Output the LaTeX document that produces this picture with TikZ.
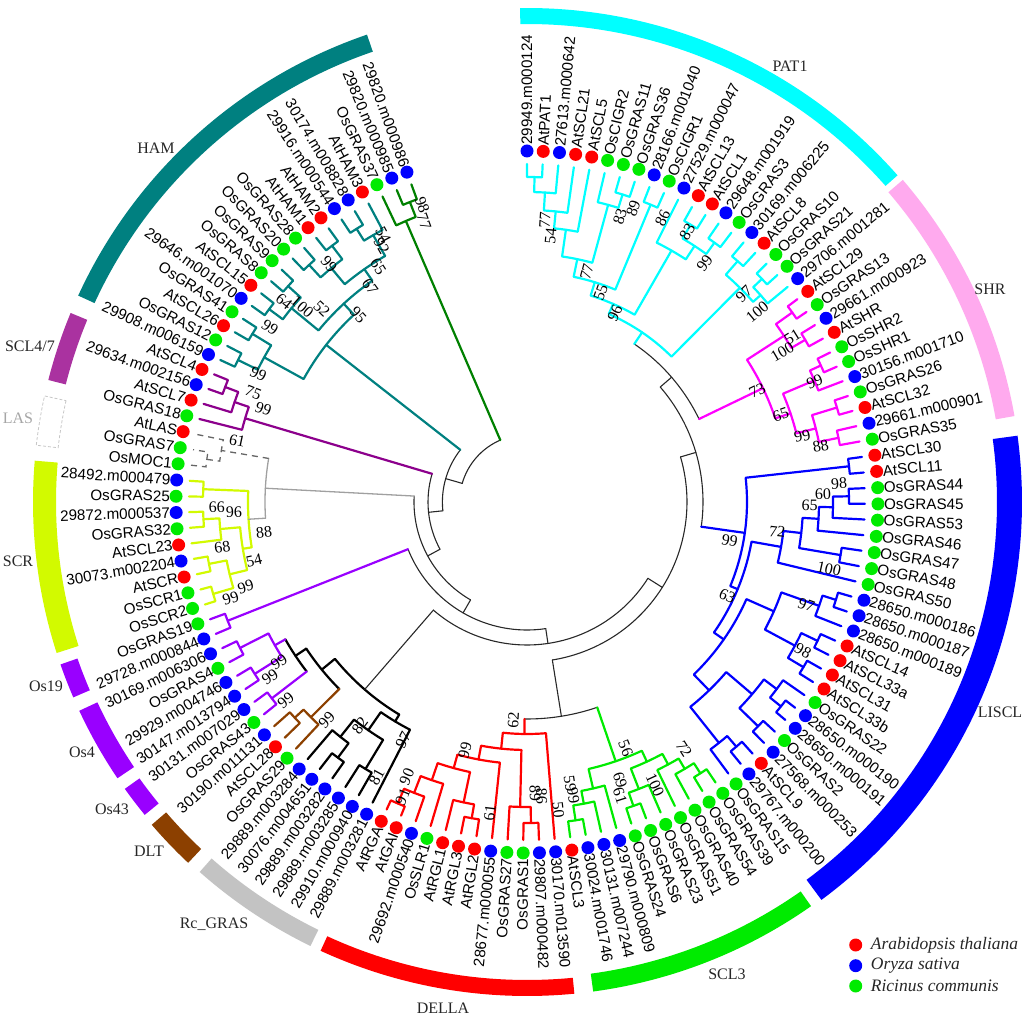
\documentclass[tikz,border=0pt]{standalone}
\usepackage{fontspec}
\setmainfont{Liberation Serif}
\newfontfamily\labfont{Liberation Sans}
\definecolor{cyc}{RGB}{0,255,255}
\definecolor{mgc}{RGB}{255,0,255}
\definecolor{shrbar}{RGB}{255,170,238}
\definecolor{blc}{RGB}{0,0,255}
\definecolor{grc}{RGB}{0,235,0}
\definecolor{rdc}{RGB}{255,0,0}
\definecolor{rcbar}{RGB}{195,195,195}
\definecolor{brc}{RGB}{140,64,0}
\definecolor{vic}{RGB}{153,0,255}
\definecolor{ygc}{RGB}{210,250,0}
\definecolor{puc}{RGB}{140,0,140}
\definecolor{pubar}{RGB}{170,50,160}
\definecolor{tec}{RGB}{0,128,128}
\definecolor{dgc}{RGB}{0,128,0}
\definecolor{bkc}{RGB}{40,40,40}
\definecolor{gyc}{RGB}{160,160,160}
\definecolor{dotr}{RGB}{255,0,0}
\definecolor{dotb}{RGB}{0,0,255}
\definecolor{dotg}{RGB}{0,235,0}
\def\dA{2.65625}
\def\tipR{338}
\newcommand\TM[3]{\pgfmathsetmacro#1{((#2)+(#3))/2}}
\newcommand\TA[4]{\pgfmathsetmacro\zzP{90-(#3)*\dA}\pgfmathsetmacro\zzQ{90-(#4)*\dA}%
 \draw[#1] (\zzP:#2pt) arc[start angle=\zzP, end angle=\zzQ, radius=#2pt];}
\newcommand\TS[4]{\pgfmathsetmacro\zzP{90-(#2)*\dA}%
 \draw[#1] (\zzP:#3pt) -- (\zzP:#4pt);}
\newcommand\TN[7]{\TM#1{#4}{#6}%
 \pgfmathsetmacro\zzP{90-(#4)*\dA}\pgfmathsetmacro\zzQ{90-(#6)*\dA}%
 \draw[#2] (\zzP:#5pt) -- (\zzP:#3pt) arc[start angle=\zzP, end angle=\zzQ, radius=#3pt] -- (\zzQ:#7pt);}
\newcommand\lf[3]{\pgfmathsetmacro\zzL{90-(#1)*\dA}\pgfmathsetmacro\zzC{cos(\zzL)}%
 \fill[#2] (\zzL:351pt) circle[radius=6.5pt];
 \ifdim\zzC pt<-0.0001pt\pgfmathsetmacro\zzR{\zzL+180}%
  \node[leaflab,anchor=east,rotate=\zzR] (lf#1) at (\zzL:357pt) {#3};
 \else
  \node[leaflab,anchor=west,rotate=\zzL] (lf#1) at (\zzL:357pt) {#3};
 \fi}
\newcount\bsc
\newcommand\bs[3]{\global\advance\bsc by 1
 \pgfmathsetmacro\zzX{#1-527}\pgfmathsetmacro\zzY{502-#2}%
 \pgfmathsetmacro\zzA{atan2(\zzY,\zzX)}\pgfmathsetmacro\zzC{cos(\zzA)}%
 \ifdim\zzC pt<-0.0001pt\pgfmathsetmacro\zzA{\zzA+180}\fi
 \node[bslab,rotate=\zzA] (bs\the\bsc) at (\zzX pt,\zzY pt) {#3};}
\newcommand\band[5]{\fill[#1] (#2:#4pt) arc[start angle=#2,end angle=#3,radius=#4pt] -- (#3:#5pt) arc[start angle=#3,end angle=#2,radius=#5pt] -- cycle;}
\tikzset{
 cl/.style={line width=2.2pt, line cap=round, line join=round},
 cy/.style={cl,cyc}, mg/.style={cl,mgc}, bl/.style={cl,blc}, gr/.style={cl,grc},
 rd/.style={cl,rdc}, rk/.style={cl,black}, br/.style={cl,brc}, vi/.style={cl,vic},
 yg/.style={cl,ygc}, pu/.style={cl,puc}, te/.style={cl,tec}, dg/.style={cl,dgc},
 ld/.style={line width=1.3pt, dash pattern=on 6pt off 5pt, black!60},
 bk/.style={line width=1.1pt, bkc, line cap=round},
 gy/.style={line width=1.3pt, gyc, line cap=round},
 leaflab/.style={font=\labfont\fontsize{15.2}{15.2}\selectfont, inner sep=0pt},
 bslab/.style={font=\fontsize{16}{16}\selectfont, inner sep=0pt},
 grp/.style={font=\fontsize{16}{16}\selectfont, text=black!85, inner sep=0pt},
 leg/.style={font=\itshape\fontsize{17.5}{17.5}\selectfont, text=black!85, inner sep=0pt, anchor=west}
}
\begin{document}
\begin{tikzpicture}[x=1pt,y=1pt]
\useasboundingbox (-527,-514) rectangle (497,502);
% ---------- outer bars ----------
\band{cyc}{41.4}{90.8}{478}{494}
\band{shrbar}{10.0}{40.6}{476}{495}
\band{blc}{-53.5}{7.7}{470}{495}
\band{grc}{-82.3}{-54.9}{476}{494}
\band{rdc}{-114.7}{-84.5}{478}{494}
\band{rcbar}{228.5}{244.0}{476}{494}
\band{brc}{220.7}{226.8}{476}{495}
\band{vic}{215.5}{219.3}{476}{494}
\band{vic}{205.0}{214.0}{474}{494}
\band{vic}{199.2}{203.3}{476}{494}
\band{ygc}{175.2}{197.8}{471}{494}
\band{pubar}{157.5}{165.7}{476}{494}
\band{tec}{108.9}{155.3}{476}{494}
\draw[gray!45, line width=0.8pt, dash pattern=on 3pt off 2pt] (167.6:472pt) arc[start angle=167.6,end angle=173.4,radius=472pt] -- (173.4:494pt) arc[start angle=173.4,end angle=167.6,radius=494pt] -- cycle;
% ---------- group labels ----------
\node[grp] (gPAT) at (263,436) {PAT1};
\node[grp] (gSHR) at (463,213) {SHR};
\node[grp] (gLIS) at (473,-210) {LISCL};
\node[grp] (gSC3) at (200,-472) {SCL3};
\node[grp] (gDEL) at (-84,-506) {DELLA};
\node[grp] (gRc) at (-313,-422) {Rc\_GRAS};
\node[grp] (gDLT) at (-378,-349) {DLT};
\node[grp] (gO43) at (-415,-307) {Os43};
\node[grp] (gO4) at (-445,-250) {Os4};
\node[grp] (gO19) at (-481,-184) {Os19};
\node[grp] (gSCR) at (-509,-59) {SCR};
\node[grp,text=gray!70] (gLAS) at (-509,84) {LAS};
\node[grp] (gS47) at (-497,156) {SCL4/7};
\node[grp] (gHAM) at (-371,354) {HAM};
% ---------- PAT1 ----------
\TN\nPa{cy}{325}{0}{\tipR}{1}{\tipR}
\TN\nPb{cy}{310}{\nPa}{325}{2}{\tipR}
\TN\nPc{cy}{292}{\nPb}{310}{3}{\tipR}
\TN\nPd{cy}{275}{\nPc}{292}{4}{\tipR}
\TN\nPe{cy}{322}{6}{\tipR}{7}{\tipR}
\TN\nPf{cy}{308}{5}{\tipR}{\nPe}{322}
\TN\nPg{cy}{248}{\nPd}{275}{\nPf}{308}
\TN\nPh{cy}{322}{8}{\tipR}{9}{\tipR}
\TN\nPi{cy}{230}{\nPg}{248}{\nPh}{322}
\TN\nPj{cy}{322}{11}{\tipR}{12}{\tipR}
\TN\nPk{cy}{320}{13}{\tipR}{14}{\tipR}
\TN\nPl{cy}{306}{\nPj}{322}{\nPk}{320}
\TN\nPm{cy}{290}{10}{\tipR}{\nPl}{306}
\TN\nPn{cy}{216}{\nPi}{230}{\nPm}{290}
\TN\nPo{cy}{320}{15}{\tipR}{16}{\tipR}
\TN\nPp{cy}{324}{17}{\tipR}{18}{\tipR}
\TN\nPq{cy}{312}{\nPp}{324}{19}{\tipR}
\TN\nPr{cy}{302}{\nPo}{320}{\nPq}{312}
\TN\nPs{cy}{205}{\nPn}{216}{\nPr}{302}
% ---------- SHR ----------
\TN\nSa{mg}{326}{20}{\tipR}{21}{\tipR}
\TN\nSb{mg}{322}{22}{\tipR}{23}{\tipR}
\TN\nSc{mg}{306}{\nSa}{326}{\nSb}{322}
\TN\nSd{mg}{324}{24}{\tipR}{25}{\tipR}
\TN\nSe{mg}{312}{\nSd}{324}{26}{\tipR}
\TN\nSf{mg}{324}{27}{\tipR}{28}{\tipR}
\TN\nSg{mg}{318}{29}{\tipR}{30}{\tipR}
\TN\nSh{mg}{298}{\nSf}{324}{\nSg}{318}
\TN\nSi{mg}{278}{\nSe}{312}{\nSh}{298}
\TN\nSj{mg}{262}{\nSc}{306}{\nSi}{278}
% ---------- LISCL ----------
\TN\nLa{bl}{324}{31}{\tipR}{32}{\tipR}
\TN\nLb{bl}{322}{33}{\tipR}{34}{\tipR}
\TN\nLc{bl}{306}{\nLb}{322}{35}{\tipR}
\TN\nLd{bl}{292}{\nLc}{306}{36}{\tipR}
\TN\nLe{bl}{318}{37}{\tipR}{38}{\tipR}
\TN\nLf{bl}{276}{\nLd}{292}{\nLe}{318}
\TN\nLg{bl}{258}{\nLf}{276}{39}{\tipR}
\TN\nLh{bl}{324}{40}{\tipR}{41}{\tipR}
\TN\nLi{bl}{310}{\nLh}{324}{42}{\tipR}
\TN\nLj{bl}{322}{43}{\tipR}{44}{\tipR}
\TN\nLk{bl}{322}{45}{\tipR}{46}{\tipR}
\TN\nLl{bl}{304}{\nLj}{322}{\nLk}{322}
\TN\nLm{bl}{270}{\nLi}{310}{\nLl}{304}
\TN\nLn{bl}{326}{48}{\tipR}{49}{\tipR}
\TN\nLo{bl}{312}{47}{\tipR}{\nLn}{326}
\TN\nLp{bl}{322}{50}{\tipR}{51}{\tipR}
\TN\nLq{bl}{296}{\nLo}{312}{\nLp}{322}
\TN\nLr{bl}{322}{52}{\tipR}{53}{\tipR}
\TN\nLs{bl}{308}{\nLr}{322}{54}{\tipR}
\TN\nLt{bl}{262}{\nLq}{296}{\nLs}{308}
\TN\nLu{bl}{240}{\nLm}{270}{\nLt}{262}
\TN\nLv{bl}{228}{\nLg}{258}{\nLu}{240}
\TN\nLw{bl}{220}{\nLa}{324}{\nLv}{228}
% ---------- SCL3 ----------
\TN\nCa{gr}{322}{55}{\tipR}{56}{\tipR}
\TN\nCb{gr}{310}{\nCa}{322}{57}{\tipR}
\TN\nCc{gr}{298}{\nCb}{310}{58}{\tipR}
\TN\nCd{gr}{322}{60}{\tipR}{61}{\tipR}
\TN\nCe{gr}{308}{59}{\tipR}{\nCd}{322}
\TN\nCf{gr}{286}{\nCc}{298}{\nCe}{308}
\TN\nCg{gr}{322}{64}{\tipR}{65}{\tipR}
\TN\nCh{gr}{307}{63}{\tipR}{\nCg}{322}
\TN\nCi{gr}{294}{62}{\tipR}{\nCh}{307}
\TN\nCj{gr}{274}{\nCf}{286}{\nCi}{294}
% ---------- DELLA ----------
\TN\nDa{rd}{321}{67}{\tipR}{68}{\tipR}
\TN\nDb{rd}{305}{\nDa}{321}{69}{\tipR}
\TN\nDc{rd}{321}{71}{\tipR}{72}{\tipR}
\TN\nDd{rd}{307}{\nDc}{321}{73}{\tipR}
\TN\nDe{rd}{328}{76}{\tipR}{77}{\tipR}
\TN\nDf{rd}{312}{75}{\tipR}{\nDe}{328}
\TN\nDg{rd}{294}{74}{\tipR}{\nDf}{312}
\TN\nDh{rd}{276}{\nDd}{307}{\nDg}{294}
\TN\nDi{rd}{262}{70}{\tipR}{\nDh}{276}
\TN\nDj{rd}{248}{\nDi}{262}{\nDb}{305}
\TN\nDk{rd}{232}{66}{\tipR}{\nDj}{248}
% ---------- Rc_GRAS / DLT / Os43 / Os4 ----------
\TN\nRa{rk}{312}{79}{\tipR}{80}{\tipR}
\TN\nRb{rk}{318}{81}{\tipR}{82}{\tipR}
\TN\nRc{rk}{300}{\nRb}{318}{83}{\tipR}
\TN\nRd{rk}{278}{\nRa}{312}{\nRc}{300}
\TN\nRe{rk}{256}{78}{\tipR}{\nRd}{278}
\TN\nTa{br}{317}{85}{\tipR}{86}{\tipR}
\TN\nTb{br}{305}{84}{\tipR}{\nTa}{317}
\TN\nOa{vi}{322}{87}{\tipR}{88}{\tipR}
\TN\nOb{vi}{322}{89}{\tipR}{90}{\tipR}
\TN\nOc{vi}{322}{91}{\tipR}{92}{\tipR}
\TN\nOd{vi}{290}{\nOb}{322}{\nOc}{322}
\TA{rk}{278}{\nOa}{\nOd}\TS{vi}{\nOa}{278}{322}\TS{vi}{\nOd}{278}{290}\TM\nOe{\nOa}{\nOd}
\TA{rk}{265}{\nTb}{\nOe}\TS{br}{\nTb}{265}{305}\TS{rk}{\nOe}{265}{278}\TM\nOf{\nTb}{\nOe}
\TA{rk}{248}{\nRe}{\nOf}\TS{rk}{\nRe}{248}{256}\TS{rk}{\nOf}{248}{265}\TM\nOg{\nRe}{\nOf}
% ---------- Os19 ----------
\TN\nNa{vi}{322}{93}{\tipR}{94}{\tipR}
% ---------- SCR ----------
\TN\nYa{yg}{327}{95}{\tipR}{96}{\tipR}
\TN\nYb{yg}{324}{97}{\tipR}{98}{\tipR}
\TN\nYc{yg}{306}{\nYa}{327}{\nYb}{324}
\TN\nYd{yg}{324}{100}{\tipR}{101}{\tipR}
\TN\nYe{yg}{308}{99}{\tipR}{\nYd}{324}
\TN\nYf{yg}{288}{\nYc}{306}{\nYe}{308}
\TN\nYg{yg}{324}{102}{\tipR}{103}{\tipR}
\TN\nYh{yg}{279}{\nYf}{288}{\nYg}{324}
% ---------- LAS ----------
\TN\nXa{ld}{323}{104}{\tipR}{105}{\tipR}
\TN\nXb{ld}{310}{\nXa}{323}{106}{\tipR}
\TA{gy}{262}{\nYh}{\nXb}\TS{gy}{\nYh}{262}{279}\TS{ld}{\nXb}{262}{310}\TM\nXc{\nYh}{\nXb}
% ---------- SCL4/7 ----------
\TN\nKa{pu}{323}{109}{\tipR}{110}{\tipR}
\TN\nKb{pu}{309}{108}{\tipR}{\nKa}{323}
\TN\nKc{pu}{294}{107}{\tipR}{\nKb}{309}
% ---------- HAM ----------
\TN\nHa{te}{322}{111}{\tipR}{112}{\tipR}
\TN\nHb{te}{322}{113}{\tipR}{114}{\tipR}
\TN\nHc{te}{300}{\nHa}{322}{\nHb}{322}
\TN\nHd{te}{322}{115}{\tipR}{116}{\tipR}
\TN\nHe{te}{322}{117}{\tipR}{118}{\tipR}
\TN\nHf{te}{305}{\nHd}{322}{\nHe}{322}
\TN\nHg{te}{322}{119}{\tipR}{120}{\tipR}
\TN\nHh{te}{322}{121}{\tipR}{122}{\tipR}
\TN\nHi{te}{305}{\nHg}{322}{\nHh}{322}
\TN\nHj{te}{322}{123}{\tipR}{124}{\tipR}
\TN\nHk{te}{308}{\nHj}{322}{125}{\tipR}
\TN\nHl{te}{284}{\nHi}{305}{\nHk}{308}
\TN\nHm{te}{270}{\nHf}{305}{\nHl}{284}
\TN\nHn{te}{255}{\nHc}{300}{\nHm}{270}
\TN\nGa{dg}{322}{127}{\tipR}{128}{\tipR}
\TN\nGb{dg}{306}{126}{\tipR}{\nGa}{322}
% ---------- backbone ----------
\TA{bk}{191}{\nPs}{\nSj}\TS{cy}{\nPs}{191}{205}\TS{mg}{\nSj}{191}{262}\TM\nBa{\nPs}{\nSj}
\TA{bk}{176}{\nBa}{\nLw}\TS{bk}{\nBa}{176}{191}\TS{bl}{\nLw}{176}{220}\TM\nBb{\nBa}{\nLw}
\TA{bk}{217}{\nCj}{\nDk}\TS{gr}{\nCj}{217}{274}\TS{rd}{\nDk}{217}{232}\TM\nBc{\nCj}{\nDk}
\TA{bk}{160}{\nBb}{\nBc}\TS{bk}{\nBb}{160}{176}\TS{bk}{\nBc}{160}{217}\TM\nBd{\nBb}{\nBc}
\TA{bk}{143}{\nBd}{\nOg}\TS{bk}{\nBd}{143}{160}\TS{bk}{\nOg}{143}{248}\TM\nBe{\nBd}{\nOg}
\TA{bk}{128}{\nBe}{\nNa}\TS{bk}{\nBe}{128}{143}\TS{vi}{\nNa}{128}{322}\TM\nBf{\nBe}{\nNa}
\TA{bk}{113}{\nXc}{\nBf}\TS{gy}{\nXc}{113}{262}\TS{bk}{\nBf}{113}{128}\TM\nBg{\nXc}{\nBf}
\TA{bk}{99}{\nKc}{\nBg}\TS{pu}{\nKc}{99}{294}\TS{bk}{\nBg}{99}{113}\TM\nBh{\nKc}{\nBg}
\TA{bk}{84.6}{\nHn}{\nBh}\TS{te}{\nHn}{84.6}{255}\TS{bk}{\nBh}{84.6}{99}\TM\nBi{\nHn}{\nBh}
\TA{bk}{67.4}{\nGb}{\nBi}\TS{dg}{\nGb}{67.4}{306}\TS{bk}{\nBi}{67.4}{84.6}
% ---------- leaves ----------
\lf{0}{dotb}{29949.m000124}
\lf{1}{dotr}{AtPAT1}
\lf{2}{dotb}{27613.m000642}
\lf{3}{dotr}{AtSCL21}
\lf{4}{dotr}{AtSCL5}
\lf{5}{dotg}{OsCIGR2}
\lf{6}{dotg}{OsGRAS11}
\lf{7}{dotg}{OsGRAS36}
\lf{8}{dotb}{28166.m001040}
\lf{9}{dotg}{OsCIGR1}
\lf{10}{dotb}{27529.m000047}
\lf{11}{dotr}{AtSCL13}
\lf{12}{dotr}{AtSCL1}
\lf{13}{dotb}{29648.m001919}
\lf{14}{dotg}{OsGRAS3}
\lf{15}{dotb}{30169.m006225}
\lf{16}{dotr}{AtSCL8}
\lf{17}{dotg}{OsGRAS10}
\lf{18}{dotg}{OsGRAS21}
\lf{19}{dotb}{29706.m001281}
\lf{20}{dotr}{AtSCL29}
\lf{21}{dotg}{OsGRAS13}
\lf{22}{dotb}{29661.m000923}
\lf{23}{dotr}{AtSHR}
\lf{24}{dotg}{OsSHR2}
\lf{25}{dotg}{OsSHR1}
\lf{26}{dotb}{30156.m001710}
\lf{27}{dotg}{OsGRAS26}
\lf{28}{dotr}{AtSCL32}
\lf{29}{dotb}{29661.m000901}
\lf{30}{dotg}{OsGRAS35}
\lf{31}{dotr}{AtSCL30}
\lf{32}{dotr}{AtSCL11}
\lf{33}{dotg}{OsGRAS44}
\lf{34}{dotg}{OsGRAS45}
\lf{35}{dotg}{OsGRAS53}
\lf{36}{dotg}{OsGRAS46}
\lf{37}{dotg}{OsGRAS47}
\lf{38}{dotg}{OsGRAS48}
\lf{39}{dotg}{OsGRAS50}
\lf{40}{dotb}{28650.m000186}
\lf{41}{dotb}{28650.m000187}
\lf{42}{dotb}{28650.m000189}
\lf{43}{dotr}{AtSCL14}
\lf{44}{dotr}{AtSCL33a}
\lf{45}{dotr}{AtSCL31}
\lf{46}{dotr}{AtSCL33b}
\lf{47}{dotg}{OsGRAS22}
\lf{48}{dotb}{28650.m000190}
\lf{49}{dotb}{28650.m000191}
\lf{50}{dotg}{OsGRAS2}
\lf{51}{dotb}{27568.m000253}
\lf{52}{dotr}{AtSCL9}
\lf{53}{dotb}{29767.m000200}
\lf{54}{dotg}{OsGRAS15}
\lf{55}{dotg}{OsGRAS39}
\lf{56}{dotg}{OsGRAS54}
\lf{57}{dotg}{OsGRAS40}
\lf{58}{dotg}{OsGRAS51}
\lf{59}{dotg}{OsGRAS23}
\lf{60}{dotg}{OsGRAS6}
\lf{61}{dotg}{OsGRAS24}
\lf{62}{dotb}{29790.m000809}
\lf{63}{dotb}{30131.m007244}
\lf{64}{dotb}{30024.m001746}
\lf{65}{dotr}{AtSCL3}
\lf{66}{dotb}{30170.m013590}
\lf{67}{dotb}{29807.m000482}
\lf{68}{dotg}{OsGRAS1}
\lf{69}{dotg}{OsGRAS27}
\lf{70}{dotb}{28677.m000055}
\lf{71}{dotr}{AtRGL2}
\lf{72}{dotr}{AtRGL3}
\lf{73}{dotr}{AtRGL1}
\lf{74}{dotg}{OsSLR1}
\lf{75}{dotb}{29692.m000540}
\lf{76}{dotr}{AtGAI}
\lf{77}{dotr}{AtRGA}
\lf{78}{dotb}{29889.m003281}
\lf{79}{dotb}{29910.m000940}
\lf{80}{dotb}{29889.m003285}
\lf{81}{dotb}{29889.m003282}
\lf{82}{dotb}{30076.m004651}
\lf{83}{dotb}{29889.m003284}
\lf{84}{dotg}{OsGRAS29}
\lf{85}{dotr}{AtSCL28}
\lf{86}{dotb}{30190.m011131}
\lf{87}{dotg}{OsGRAS43}
\lf{88}{dotb}{30131.m007029}
\lf{89}{dotb}{30147.m013794}
\lf{90}{dotb}{29929.m004746}
\lf{91}{dotg}{OsGRAS4}
\lf{92}{dotb}{30169.m006306}
\lf{93}{dotb}{29728.m000844}
\lf{94}{dotg}{OsGRAS19}
\lf{95}{dotg}{OsSCR2}
\lf{96}{dotg}{OsSCR1}
\lf{97}{dotr}{AtSCR}
\lf{98}{dotb}{30073.m002204}
\lf{99}{dotr}{AtSCL23}
\lf{100}{dotg}{OsGRAS32}
\lf{101}{dotb}{29872.m000537}
\lf{102}{dotg}{OsGRAS25}
\lf{103}{dotb}{28492.m000479}
\lf{104}{dotg}{OsMOC1}
\lf{105}{dotg}{OsGRAS7}
\lf{106}{dotr}{AtLAS}
\lf{107}{dotg}{OsGRAS18}
\lf{108}{dotr}{AtSCL7}
\lf{109}{dotb}{29634.m002156}
\lf{110}{dotr}{AtSCL4}
\lf{111}{dotb}{29908.m006159}
\lf{112}{dotg}{OsGRAS12}
\lf{113}{dotr}{AtSCL26}
\lf{114}{dotg}{OsGRAS41}
\lf{115}{dotb}{29646.m001070}
\lf{116}{dotr}{AtSCL15}
\lf{117}{dotg}{OsGRAS8}
\lf{118}{dotg}{OsGRAS9}
\lf{119}{dotg}{OsGRAS20}
\lf{120}{dotg}{OsGRAS28}
\lf{121}{dotr}{AtHAM1}
\lf{122}{dotr}{AtHAM2}
\lf{123}{dotb}{29916.m000544}
\lf{124}{dotb}{30174.m008828}
\lf{125}{dotr}{AtHAM3}
\lf{126}{dotg}{OsGRAS37}
\lf{127}{dotb}{29820.m000985}
\lf{128}{dotb}{29820.m000986}
% ---------- bootstrap values ----------
\bs{545}{220}{77}\bs{550.7}{235.7}{54}\bs{620}{216.7}{83}\bs{633.3}{208.3}{89}
\bs{662.7}{218.3}{86}\bs{586.7}{271.7}{77}\bs{600.7}{292.7}{55}\bs{615}{313.3}{96}
\bs{687.3}{231.7}{83}\bs{704.7}{263.3}{99}\bs{744}{294}{97}
\bs{757.3}{311.7}{100}\bs{792.3}{336.7}{51}\bs{782.3}{352.3}{100}\bs{757.3}{390.7}{73}
\bs{814.7}{381.7}{99}\bs{780.7}{415}{65}\bs{802.3}{436}{99}\bs{820.7}{446}{88}
\bs{839}{483.3}{98}\bs{823}{494}{60}\bs{809.7}{505.7}{65}\bs{777.3}{531.7}{72}
\bs{829}{569}{100}\bs{729.7}{540.7}{99}\bs{727.3}{595.7}{63}\bs{806.3}{605}{97}\bs{803}{650.7}{98}
\bs{625.7}{748.3}{56}\bs{684}{749}{72}\bs{655}{785}{100}\bs{620}{780}{69}\bs{620}{796}{61}
\bs{570}{784}{59}\bs{573.3}{796}{99}
\bs{513.3}{720}{62}\bs{465}{750}{99}\bs{406.7}{776.7}{90}\bs{402.7}{796.7}{91}
\bs{490}{812.7}{61}\bs{535}{793.3}{89}\bs{541.7}{796.7}{86}\bs{558.3}{810}{50}
\bs{360}{725.7}{82}\bs{403.3}{740}{97}\bs{376.7}{776.7}{81}
\bs{326.7}{720}{99}\bs{285.7}{700}{99}\bs{270}{677}{99}\bs{279}{661.7}{99}
\bs{216.7}{507.3}{66}\bs{234}{512.3}{96}\bs{264}{532.3}{88}\bs{222.3}{547.3}{68}
\bs{254}{560.7}{54}\bs{245.7}{586.7}{99}\bs{230.7}{598.3}{99}
\bs{237.3}{440.7}{61}
\bs{258.3}{374}{99}\bs{253.3}{392.3}{75}\bs{263.3}{409}{99}
\bs{329}{264}{99}\bs{321.7}{309}{52}\bs{302.3}{306.7}{100}\bs{284}{301.7}{64}\bs{270}{327.3}{99}
\bs{383.3}{235}{54}\bs{381.7}{245.7}{92}\bs{378.3}{266.7}{65}\bs{370}{286.7}{67}
\bs{358.3}{315}{95}\bs{422.3}{205}{98}\bs{424}{221.7}{77}
% ---------- legend ----------
\fill[dotr] (328.7,-443) circle[radius=6.5pt];
\fill[dotb] (328.7,-463.7) circle[radius=6.5pt];
\fill[dotg] (328.7,-484) circle[radius=6.5pt];
\node[leg] (legA) at (343.7,-443) {Arabidopsis thaliana};
\node[leg] (legO) at (343.7,-463.7) {Oryza sativa};
\node[leg] (legR) at (343.7,-484) {Ricinus communis};
\end{tikzpicture}
\end{document}
